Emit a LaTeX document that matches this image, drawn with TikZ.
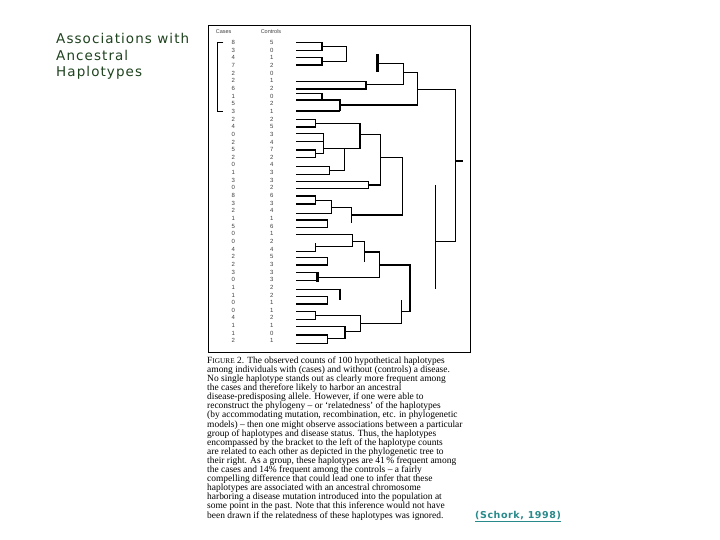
\documentclass[tikz,border=0pt]{standalone}
\usepackage{fontspec}
\setmainfont{Liberation Serif}
\newfontfamily\titlefont[LetterSpace=8]{DejaVu Sans}
\newfontfamily\citefont[LetterSpace=6]{DejaVu Sans}
\newfontfamily\tablefont{Liberation Sans}
\definecolor{titlegreen}{RGB}{30,66,30}
\definecolor{citeteal}{RGB}{40,138,138}

\begin{document}
\begin{tikzpicture}[x=1pt,y=-1pt,
    branch/.style={line width=1.05pt},
    stub/.style={line width=2.8pt},
    frame/.style={line width=0.9pt},
    tally/.style={font=\tablefont\fontsize{6}{6}\selectfont,text=black!75,inner sep=0pt},
    head/.style={font=\tablefont\fontsize{5.5}{5.5}\selectfont,text=black!75,inner sep=0pt}]
  \useasboundingbox (0,0) rectangle (720,540);

  \node[anchor=north west,align=left,inner sep=0pt,text=titlegreen,
        font=\titlefont\fontsize{13.5}{16.7}\selectfont] (title) at (56,33)
        {Associations with\\Ancestral\\Haplotypes};

  \draw[frame] (208,25) rectangle (470,352);
  \node[head] (cases) at (223.7,31.5) {Cases};
  \node[head] (controls) at (271,31.5) {Controls};
  \foreach \ca/\co [count=\i from 0] in {8/5,3/0,4/1,7/2,2/0,2/1,6/2,1/0,5/2,3/1,
      2/2,4/5,0/3,2/4,5/7,2/2,0/4,1/3,3/3,0/2,8/6,3/3,2/4,1/1,5/6,0/1,0/2,4/4,2/5,2/3,
      3/3,0/3,1/2,1/2,0/1,0/1,4/2,1/1,1/0,2/1}{
    \node[tally] (ca\i) at (233.3,42.5+7.65*\i) {\ca};
    \node[tally] (co\i) at (271.7,42.5+7.65*\i) {\co};
  }
  \draw[frame] (223.3,42.7) -| (217.7,111.7) -- (223.3,111.7);

  \draw[branch] (296,42.3) -| (322,50.7) -- (296,50.7);
  \draw[branch] (296,57.7) -| (322,65) -- (296,65);
  \draw[branch] (322,46.5) -| (346.7,61.3) -- (322,61.3);
  \draw[branch] (296,81.7) -| (366,89) -- (296,89);
  \draw[branch] (366,84.3) -| (403.3,63.3) -- (377.7,63.3);
  \draw[stub] (377.7,54.3) -- (377.7,72.3);
  \draw[branch] (403.3,72.7) -| (417.3,105) -- (340,105);
  \draw[branch] (296,93.3) -| (322,100);
  \draw[branch] (296,100) -- (340,100) (296,111) -- (340,111);
  \draw[stub] (340,99.5) -- (340,111.5);
  \draw[branch] (417.3,89.3) -| (455.3,241.7) -- (435.3,241.7);
  \draw[branch] (435.3,185) -- (435.3,289.3);
  \draw[branch] (455.3,161) -- (463.3,161);

  \draw[branch] (296,119.5) -| (315.7,127) -- (296,127);
  \draw[branch] (315.7,123.3) -| (360,148.3) -- (323.3,148.3);
  \draw[branch] (296,133.5) -| (323.3,153.7) -- (315.7,153.7);
  \draw[branch] (296,141.3) -- (323.3,141.3);
  \draw[branch] (296,150) -| (315.7,157.5) -- (296,157.5);
  \draw[branch] (360,134.3) -| (380.3,185) -- (368.3,185);
  \draw[branch] (296,166.7) -| (329.3,174.3) -- (296,174.3);
  \draw[branch] (329.3,170.5) -| (344.3,148.3);
  \draw[branch] (296,181.3) -| (368.3,188.7) -- (296,188.7);
  \draw[branch] (380.3,157.5) -| (402.3,215) -- (351.7,215);

  \draw[branch] (296,196) -| (315.7,204) -- (296,204);
  \draw[branch] (315.7,200.3) -| (331.7,213.3) -- (296,213.3);
  \draw[branch] (331.7,207.3) -| (351.7,223.3);
  \draw[branch] (296,220) -| (327.7,227.7) -- (296,227.7);
  \draw[branch] (296,234.3) -| (352.3,246.7) -- (315.7,246.7);
  \draw[branch] (315.7,243.3) |- (296,251.7);
  \draw[branch] (352.3,241.3) -| (364.3,261.7);
  \draw[branch] (364.3,252) -| (379.3,277.3) -- (317.7,277.3);
  \draw[branch] (379.3,265) -| (410,311.7) -- (401.7,311.7);
  \draw[branch] (296,257.3) -| (327.7,265) -- (296,265);
  \draw[branch] (296,272.7) -- (317.7,272.7) (296,280.7) -- (317.7,280.7);
  \draw[stub] (317.7,271.9) -- (317.7,281.5);
  \draw[branch] (296,289.3) -- (340,289.3);
  \draw[stub] (340,288.5) -- (340,300);
  \draw[branch] (296,296.7) -| (327.7,304) -- (296,304);
  \draw[branch] (296,311.7) -| (315.7,319.3) -- (296,319.3);
  \draw[branch] (315.7,315.7) -| (360.7,331.7) -- (345,331.7);
  \draw[branch] (296,326.7) -| (345,338.3) -- (327.7,338.3);
  \draw[branch] (296,335) -| (327.7,343.3) -- (296,343.3);
  \draw[branch] (360.7,323.3) -| (401.7,300);

  \node[anchor=north west,align=left,inner sep=0pt,
        font=\fontsize{9.45}{9.1}\selectfont] (caption) at (207,356.5)
        {F{\fontsize{7.3}{7.3}\selectfont IGURE} 2. The observed counts of 100 hypothetical haplotypes\\
         among individuals with (cases) and without (controls) a disease.\\
         No single haplotype stands out as clearly more frequent among\\
         the cases and therefore likely to harbor an ancestral\\
         disease-predisposing allele. However, if one were able to\\
         reconstruct the phylogeny -- or `relatedness' of the haplotypes\\
         (by accommodating mutation, recombination, etc. in phylogenetic\\
         models) -- then one might observe associations between a particular\\
         group of haplotypes and disease status. Thus, the haplotypes\\
         encompassed by the bracket to the left of the haplotype counts\\
         are related to each other as depicted in the phylogenetic tree to\\
         their right. As a group, these haplotypes are 41\,\% frequent among\\
         the cases and 14\% frequent among the controls -- a fairly\\
         compelling difference that could lead one to infer that these\\
         haplotypes are associated with an ancestral chromosome\\
         harboring a disease mutation introduced into the population at\\
         some point in the past. Note that this inference would not have\\
         been drawn if the relatedness of these haplotypes was ignored.};

  \node[anchor=base west,inner sep=0pt,text=citeteal,
        font=\citefont\bfseries\fontsize{9.5}{9.5}\selectfont] (cite) at (475,518.3)
        {\underline{(Schork, 1998)}};
\end{tikzpicture}
\end{document}
